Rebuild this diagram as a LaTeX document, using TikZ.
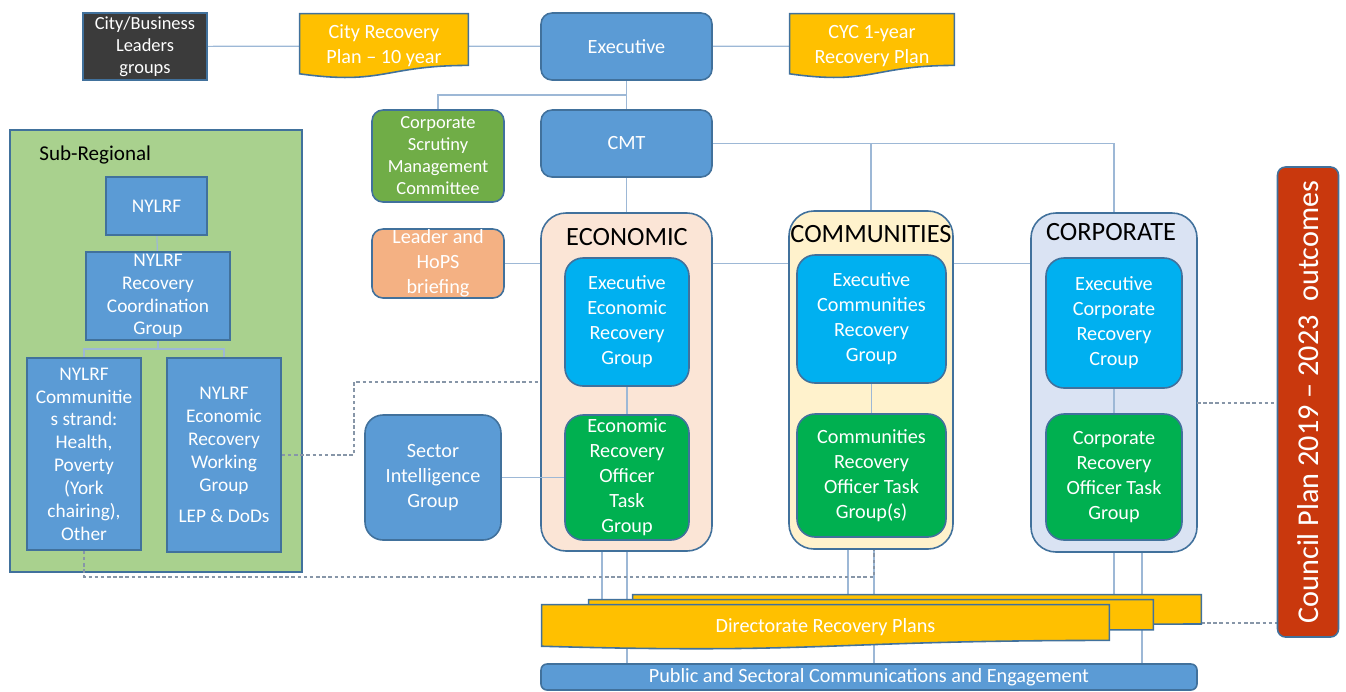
\documentclass[tikz,border=0pt]{standalone}
\usepackage{fontspec}
\setmainfont{Carlito}
\usetikzlibrary{calc}

\definecolor{pptblue}{HTML}{5B9BD5}
\definecolor{boxedge}{HTML}{41719C}
\definecolor{darkbox}{HTML}{3B3B3B}
\definecolor{planyellow}{HTML}{FFC000}
\definecolor{scrutgreen}{HTML}{70AD47}
\definecolor{leadorange}{HTML}{F4B183}
\definecolor{econfill}{HTML}{FBE5D6}
\definecolor{commfill}{HTML}{FFF2CC}
\definecolor{corpfill}{HTML}{DAE3F3}
\definecolor{execcyan}{HTML}{00B0F0}
\definecolor{taskgreen}{HTML}{00B050}
\definecolor{subgreen}{HTML}{A9D18E}
\definecolor{councilred}{HTML}{C9380D}
\definecolor{linkblue}{HTML}{9DB8D6}
\definecolor{dashgrey}{HTML}{8796A8}

\pgfdeclarelayer{back}
\pgfdeclarelayer{lines}
\pgfdeclarelayer{docs}
\pgfsetlayers{back,lines,docs,main}

% document outline with the wavy bottom edge
\newcommand\plancurve[1]{%
  \filldraw[plan] (#1.north west) -- (#1.north east)
    -- ($(#1.south east)!.2!(#1.north east)$)
    .. controls ($(#1.south)!.2!(#1.north)$) and ($(#1.south)!-.11!(#1.north)$)
    .. ($(#1.south west)!.07!(#1.north west)$) -- cycle;}

\begin{document}
\begin{tikzpicture}[x=0.02cm, y=-0.02cm,
	every node/.style={align=center, text=white, inner sep=0pt, font=\fontsize{11.5}{14.2}\selectfont},
	wh/.style 2 args={minimum width=#1*0.02cm, minimum height=#2*0.02cm},
	box/.style={draw=boxedge, line width=0.9pt, fill=pptblue},
	rbox/.style={box, rounded corners=0.22cm},
	ibox/.style={box, rounded corners=0.36cm},
	panel/.style={draw=boxedge, line width=0.9pt, rounded corners=0.5cm},
	plan/.style={fill=planyellow, draw=boxedge, line width=0.9pt},
	headtxt/.style={text=black, font=\fontsize{15}{17}\selectfont},
	small/.style={font=\fontsize{10.5}{12.5}\selectfont},
	subtxt/.style={font=\fontsize{11}{13}\selectfont},
	link/.style={draw=linkblue, line width=0.7pt},
	dlink/.style={draw=dashgrey, line width=0.6pt, dash pattern=on 2pt off 1.5pt}]
	\useasboundingbox (0,0) rectangle (1346,691);

	% panels behind everything
	\begin{pgfonlayer}{back}
	\node[box, fill=subgreen, wh={292}{442}]	(subreg)	at (156,351)	{};
	\node[panel, fill=econfill, wh={171}{338}]	(econ)		at (626.5,382)	{};
	\node[panel, fill=commfill, wh={164}{338}]	(comm)		at (871,380)	{};
	\node[panel, fill=corpfill, wh={166}{339}]	(corp)		at (1114,382.5)	{};
	\end{pgfonlayer}

	% top row
	\node[box, fill=darkbox, small, wh={124}{67}]	(cbl)	at (145,46.5)	{City/Business\\Leaders\\groups};
	\node[wh={168}{64}]		(crp)	at (384,46)		{City Recovery\\Plan -- 10 year};
	\node[rbox, wh={171}{67}]	(exec)	at (626.5,46.5)	{Executive};
	\node[wh={164}{64}]		(cyc)	at (872,46)		{CYC 1-year\\Recovery Plan};

	\node[rbox, fill=scrutgreen, small, wh={132}{92}]	(csmc)		at (438,156)	{Corporate\\Scrutiny\\Management\\Committee};
	\node[rbox, wh={171}{67}]							(cmt)		at (626.5,143.5)	{CMT};
	\node[rbox, fill=leadorange, wh={132}{69}]			(leader)	at (438,263.5)	{Leader and\\HoPS\\briefing};
	\node[ibox, wh={136}{125}]							(sig)		at (433,477.5)	{Sector\\Intelligence\\Group};

	% the three strands
	\node[headtxt]	(econhead)	at (627,237)	{ECONOMIC};
	\node[headtxt]	(commhead)	at (871,234)	{COMMUNITIES};
	\node[headtxt]	(corphead)	at (1111,232)	{CORPORATE};

	\node[ibox, fill=execcyan, wh={124}{128}]	(eerg)		at (627,322)	{Executive\\Economic\\Recovery\\Group};
	\node[ibox, fill=taskgreen, wh={124}{125}]	(erotg)		at (627,477.5)	{Economic\\Recovery\\Officer\\Task\\Group};
	\node[ibox, fill=execcyan, wh={149}{128}]	(ecrg)		at (871.5,319)	{Executive\\Communities\\Recovery\\Group};
	\node[ibox, fill=taskgreen, wh={149}{123}]	(crotg)		at (871.5,475.5)	{Communities\\Recovery\\Officer Task\\Group(s)};
	\node[ibox, fill=execcyan, wh={136}{130}]	(ecorg)		at (1114,323)	{Executive\\Corporate\\Recovery\\Croup};
	\node[ibox, fill=taskgreen, wh={136}{126}]	(corotg)	at (1114,477)	{Corporate\\Recovery\\Officer Task\\Group};

	% sub-regional
	\node[anchor=west, text=black, font=\fontsize{12}{14}\selectfont]	(subhead)	at (39,155)	{Sub-Regional};
	\node[box, subtxt, wh={101}{58}]	(nylrf)	at (156.5,206)	{NYLRF};
	\node[box, subtxt, wh={144}{88}]	(nrcg)	at (158,296)	{NYLRF\\Recovery\\Coordination\\Group};
	\node[box, subtxt, wh={114}{192}]	(ncs)	at (84,454)		{NYLRF\\Communitie\\s strand:\\Health,\\Poverty\\(York\\chairing),\\Other};
	\node[box, subtxt, wh={114}{194}]	(nerwg)	at (224,455)	{NYLRF\\Economic\\Recovery\\Working\\Group\\[5pt]LEP \& DoDs};

	% bottom
	\node[wh={568}{36}]	(dr3)	at (917,613)	{};
	\node[wh={564}{37}]	(dr2)	at (871,618.5)	{};
	\node[wh={567}{44}]	(dr1)	at (825.5,627)	{Directorate Recovery Plans};
	\node[rbox, rounded corners=0.12cm, wh={656}{26}]	(pub)	at (869,677)	{Public and Sectoral Communications and Engagement};

	\node[rbox, fill=councilred, rounded corners=0.16cm, wh={61}{470}]	(council)	at (1308,402)	{};
	\node[rotate=90, font=\fontsize{17.2}{19}\selectfont]	(counciltxt)	at (council)	{Council Plan 2019 -- 2023 \ outcomes};

	\begin{pgfonlayer}{docs}
	\plancurve{crp}
	\plancurve{cyc}
	\plancurve{dr3}
	\plancurve{dr2}
	\plancurve{dr1}
	\end{pgfonlayer}

	\begin{pgfonlayer}{lines}
	\coordinate (nsplit)	at (158,349);
	\coordinate (dk1)		at (354,382);
	\coordinate (dk2)		at (874,577);
	\coordinate (corpout)	at (1197,403);
	\coordinate (drpout)	at (1201,623);

	\path[link]
	(cbl)		edge	(crp)
	(crp)		edge	(exec)
	(exec)		edge	(cyc)
				edge	(cmt)
	(cmt)		edge	(econ)
	(eerg)		edge	(erotg)
	(ecrg)		edge	(crotg)
	(ecorg)		edge	(corotg)
	(sig)		edge	(erotg)
	(nylrf)		edge	(nrcg);

	\draw[link] (csmc.north) |- ($(exec.south)!.5!(cmt.north)$);
	\draw[link] (cmt.east) -| (comm.north);
	\draw[link] (cmt.east) -| (corp.north);
	\draw[link] (leader.east) -- (leader.east -| econ.west);
	\draw[link] (econ.east |- leader.east) -- (comm.west |- leader.east);
	\draw[link] (comm.east |- leader.east) -- (corp.west |- leader.east);
	\draw[link] (nrcg.south) -- (nsplit) -| (ncs.north);
	\draw[link] (nsplit) -| (nerwg.north);

	\foreach \col/\xl/\xr in {econ/602/627, comm/848/874, corp/1114/1142}{
		\coordinate (colL) at (\xl,0);
		\coordinate (colR) at (\xr,0);
		\draw[link] (\col.south -| colL) -- (dr3.center -| colL);
		\draw[link] (\col.south -| colR) -- (pub.north -| colR);
	}

	\draw[dlink] (nerwg.east) -| (dk1) -- (dk1 -| econ.west);
	\draw[dlink] (ncs.south) |- (dk2) -- (dk2 |- comm.south);
	\draw[dlink] (corpout) -- (corpout -| council.west);
	\draw[dlink] (drpout) -- (drpout -| council.west);
	\end{pgfonlayer}
\end{tikzpicture}
\end{document}
